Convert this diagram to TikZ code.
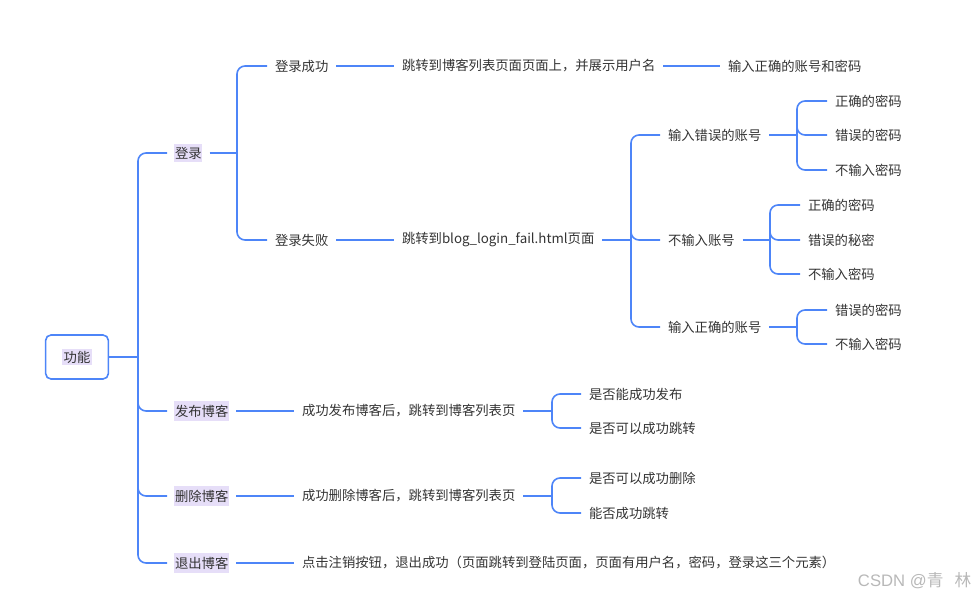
\documentclass[tikz,border=0pt]{standalone}
\usepackage{fontspec}
\setmainfont{Noto Sans CJK SC}
\newfontfamily\markfont{Liberation Sans}
\usepackage{xcolor}
\usepackage{tikz}

\definecolor{linkblue}{HTML}{4D85F8}
\definecolor{hlpurple}{HTML}{E6DEF8}
\definecolor{textgray}{HTML}{333333}
\definecolor{markgray}{HTML}{B8B8B8}

\begin{document}
\begin{tikzpicture}[
  x=0.75pt, y=-0.75pt,
  font=\fontsize{10pt}{12pt}\selectfont,
  text=textgray,
  topic/.style={
    anchor=west,
    inner xsep=0.5pt,
    inner ysep=2.5pt,
    outer xsep=5.5pt,
    outer ysep=0pt
  },
  hltopic/.style={
    topic,
    fill=hlpurple
  },
  rootbox/.style={
    draw=linkblue,
    rounded corners=4pt,
    minimum width=47pt,
    minimum height=33pt,
    line width=1.2pt
  },
  link/.style={
    draw=linkblue,
    line width=1.2pt,
    rounded corners=6pt
  }
]

\useasboundingbox (0,0) rectangle (979,598);

% --- Root --------------------------------------------------------------

\node[rootbox] (root) at (77,357)
{\setlength{\fboxsep}{1.5pt}\colorbox{hlpurple}{功能}};

% --- First level -------------------------------------------------------

\node[hltopic] (login)   at (167,153) {登录};
\node[hltopic] (publish) at (167,411) {发布博客};
\node[hltopic] (delete)  at (167,496) {删除博客};
\node[hltopic] (logout)  at (167,563) {退出博客};

% --- Login branch ------------------------------------------------------

\node[topic] (loginok)   at (267,66)  {登录成功};
\node[topic] (loginfail) at (267,240) {登录失败};

\node[topic] (okpage)  at (394,66) {跳转到博客列表页面页面上，并展示用户名};
\node[topic] (okcheck) at (720,66) {输入正确的账号和密码};

\node[topic] (failpage) at (394,240) {跳转到blog\_login\_fail.html页面};

\node[topic] (wrongid) at (660,135) {输入错误的账号};
\node[topic] (noid)    at (660,240) {不输入账号};
\node[topic] (rightid) at (660,327) {输入正确的账号};

\node[topic] (wrongida) at (827,101) {正确的密码};
\node[topic] (wrongidb) at (827,135) {错误的密码};
\node[topic] (wrongidc) at (827,170) {不输入密码};

\node[topic] (noida) at (800,205) {正确的密码};
\node[topic] (noidb) at (800,240) {错误的秘密};
\node[topic] (noidc) at (800,274) {不输入密码};

\node[topic] (rightida) at (827,310) {错误的密码};
\node[topic] (rightidb) at (827,344) {不输入密码};

% --- Publish / delete / logout branches --------------------------------

\node[topic] (publishpage) at (294,411) {成功发布博客后，跳转到博客列表页};
\node[topic] (publisha) at (581,394) {是否能成功发布};
\node[topic] (publishb) at (581,428) {是否可以成功跳转};

\node[topic] (deletepage) at (294,496) {成功删除博客后，跳转到博客列表页};
\node[topic] (deletea) at (581,478) {是否可以成功删除};
\node[topic] (deleteb) at (581,513) {能否成功跳转};

\node[topic] (logoutpage) at (294,563)
{点击注销按钮，退出成功（页面跳转到登陆页面，页面有用户名，密码，登录这三个元素）};

% --- Junctions ---------------------------------------------------------

\coordinate (jroot)    at (138,357);
\coordinate (jlogin)   at (237,153);
\coordinate (jfail)    at (631,240);
\coordinate (jwrongid) at (797,135);
\coordinate (jnoid)    at (770,240);
\coordinate (jrightid) at (797,327);
\coordinate (jpublish) at (552,411);
\coordinate (jdelete)  at (552,496);

% --- Links -------------------------------------------------------------

\draw[link] (root) -- (jroot);
\draw[link] (jroot) |- (login.west);
\draw[link] (jroot) |- (publish.west);
\draw[link] (jroot) |- (delete.west);
\draw[link] (jroot) |- (logout.west);

\draw[link] (login.east) -- (jlogin);
\draw[link] (jlogin) |- (loginok.west);
\draw[link] (jlogin) |- (loginfail.west);

\draw[link] (loginok.east) -- (okpage.west);
\draw[link] (okpage.east) -- (okcheck.west);

\draw[link] (loginfail.east) -- (failpage.west);
\draw[link] (failpage.east) -- (jfail);
\draw[link] (jfail) |- (wrongid.west);
\draw[link] (jfail) |- (noid.west);
\draw[link] (jfail) |- (rightid.west);

\draw[link] (wrongid.east) -- (jwrongid);
\draw[link] (jwrongid) |- (wrongida.west);
\draw[link] (jwrongid) |- (wrongidb.west);
\draw[link] (jwrongid) |- (wrongidc.west);

\draw[link] (noid.east) -- (jnoid);
\draw[link] (jnoid) |- (noida.west);
\draw[link] (jnoid) |- (noidb.west);
\draw[link] (jnoid) |- (noidc.west);

\draw[link] (rightid.east) -- (jrightid);
\draw[link] (jrightid) |- (rightida.west);
\draw[link] (jrightid) |- (rightidb.west);

\draw[link] (publish.east) -- (publishpage.west);
\draw[link] (publishpage.east) -- (jpublish);
\draw[link] (jpublish) |- (publisha.west);
\draw[link] (jpublish) |- (publishb.west);

\draw[link] (delete.east) -- (deletepage.west);
\draw[link] (deletepage.east) -- (jdelete);
\draw[link] (jdelete) |- (deletea.west);
\draw[link] (jdelete) |- (deleteb.west);

\draw[link] (logout.east) -- (logoutpage.west);

% --- Watermark ---------------------------------------------------------

\node[anchor=east, text=markgray, font=\fontsize{12.5pt}{14pt}\selectfont]
  (mark) at (976,581) {{\markfont CSDN @}青\ \ \ 林};

\end{tikzpicture}
\end{document}
